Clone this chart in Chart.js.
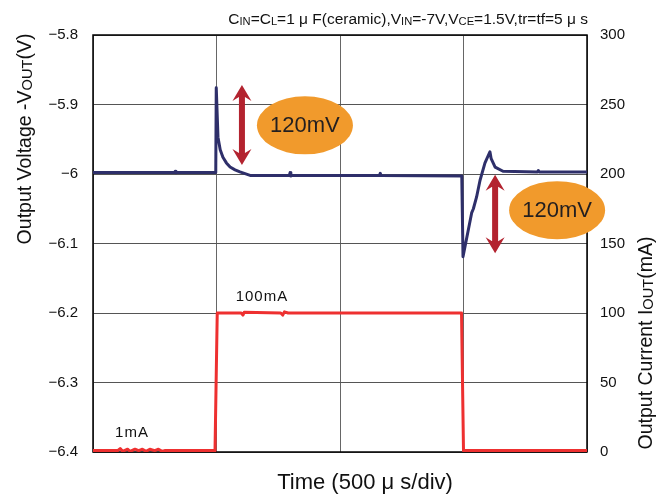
<!DOCTYPE html>
<html>
<head>
<meta charset="utf-8">
<script src="https://cdn.jsdelivr.net/npm/chart.js@4/dist/chart.umd.min.js"></script>
<style>
  html, body { margin: 0; padding: 0; background: #fff; }
  #wrap { width: 664px; height: 494px; }
</style>
</head>
<body>
<div id="wrap"><canvas id="loadChart" width="664" height="494"></canvas></div>
<script>
// time in microseconds, 500us per division
const timeTicks = [0, 500, 1000, 1500, 2000];
const voltTicks = [-6.4, -6.3, -6.2, -6.1, -6.0, -5.9, -5.8];
const currTicks = [0, 50, 100, 150, 200, 250, 300];

// output voltage trace (-Vout, V)
const voltTime = [0, 200, 330, 333, 336, 497, 499, 506, 515, 526, 540, 555, 575, 595, 636, 795, 798, 801, 805, 1160, 1163, 1166, 1493, 1498, 1533, 1540, 1553, 1567, 1587, 1607, 1612, 1628, 1660, 1800, 1803, 1806, 2000];
const voltValue = [-5.998, -5.998, -5.998, -5.996, -5.998, -5.998, -5.876, -5.947, -5.965, -5.976, -5.984, -5.990, -5.994, -5.997, -6.002, -6.002, -5.998, -6.003, -6.002, -6.002, -5.999, -6.002, -6.003, -6.119, -6.056, -6.050, -6.033, -6.009, -5.984, -5.968, -5.978, -5.990, -5.996, -5.997, -5.995, -5.997, -5.997];

// output current trace (Iout, mA)
const currTime = [0, 100, 110, 120, 140, 150, 170, 185, 200, 215, 230, 250, 265, 280, 290, 494, 503, 600, 607, 612, 760, 768, 775, 790, 1000, 1492, 1500, 2000];
const currValue = [1, 1, 2.5, 0.5, 2, 0.5, 2, 1, 2, 0.5, 2, 1, 2, 0.5, 1, 1, 100, 100, 98.5, 100.5, 100, 98.5, 100.8, 100, 100, 100, 1, 1];

// annotations (time, volts on the left axis)
const arrows = [
  { t: 603, top: -5.872, bottom: -5.987 },
  { t: 1628, top: -6.001, bottom: -6.114 }
];
const bubbles = [
  { t: 858, v: -5.930, text: '120mV' },
  { t: 1879, v: -6.052, text: '120mV' }
];
// text labels (time, mA on the right axis)
const currLabels = [
  { t: 684, i: 111.5, text: '100mA' },
  { t: 158, i: 13.7, text: '1mA' }
];

const FONT = '"Liberation Sans", Arial, sans-serif';

function pts(xs, ys) {
  return xs.map((x, i) => ({ x: x, y: ys[i] }));
}

// text made of [text, isSub] parts; subscripts are small caps on the baseline
function richWidth(ctx, parts, size, ratio) {
  let w = 0;
  parts.forEach(p => {
    ctx.font = (p[1] ? size * ratio : size) + 'px ' + FONT;
    w += ctx.measureText(p[0]).width;
  });
  return w;
}
function drawRich(ctx, parts, x, y, size, ratio) {
  parts.forEach(p => {
    ctx.font = (p[1] ? size * ratio : size) + 'px ' + FONT;
    ctx.fillText(p[0], x, p[1] ? y + size * 0.04 : y);
    x += ctx.measureText(p[0]).width;
  });
}

const extras = {
  id: 'extras',
  beforeDatasetsDraw(chart) {
    const ctx = chart.ctx, a = chart.chartArea;
    ctx.save();
    ctx.strokeStyle = '#000';
    ctx.lineWidth = 1.5;
    ctx.strokeRect(a.left, a.top, a.right - a.left, a.bottom - a.top);
    ctx.restore();
  },
  afterDatasetsDraw(chart) {
    const ctx = chart.ctx, a = chart.chartArea;
    const xs = chart.scales.x, ys = chart.scales.y, y2 = chart.scales.y2;
    ctx.save();

    // arrows
    ctx.fillStyle = '#B3232F';
    arrows.forEach(ar => {
      const x = xs.getPixelForValue(ar.t);
      const yt = ys.getPixelForValue(ar.top), yb = ys.getPixelForValue(ar.bottom);
      const hw = 9.5, hl = 16, sw = 3;
      ctx.beginPath();
      ctx.moveTo(x, yt);
      ctx.lineTo(x + hw, yt + hl);
      ctx.lineTo(x + sw, yt + hl - 4);
      ctx.lineTo(x + sw, yb - hl + 4);
      ctx.lineTo(x + hw, yb - hl);
      ctx.lineTo(x, yb);
      ctx.lineTo(x - hw, yb - hl);
      ctx.lineTo(x - sw, yb - hl + 4);
      ctx.lineTo(x - sw, yt + hl - 4);
      ctx.lineTo(x - hw, yt + hl);
      ctx.closePath();
      ctx.fill();
    });

    // orange bubbles
    bubbles.forEach(b => {
      const x = xs.getPixelForValue(b.t), y = ys.getPixelForValue(b.v);
      ctx.beginPath();
      ctx.ellipse(x, y, 48, 29, 0, 0, Math.PI * 2);
      ctx.fillStyle = '#F19A2C';
      ctx.fill();
      ctx.fillStyle = '#231F20';
      ctx.font = '22px ' + FONT;
      ctx.textAlign = 'center';
      ctx.textBaseline = 'middle';
      ctx.fillText(b.text, x, y + 1);
    });

    // current labels
    ctx.fillStyle = '#111';
    ctx.font = '15px ' + FONT;
    ctx.letterSpacing = '1px';
    ctx.textAlign = 'center';
    ctx.textBaseline = 'middle';
    currLabels.forEach(l => {
      ctx.fillText(l.text, xs.getPixelForValue(l.t), y2.getPixelForValue(l.i));
    });
    ctx.letterSpacing = '0px';

    // condition line at the top
    ctx.textAlign = 'left';
    ctx.textBaseline = 'alphabetic';
    const cond = [['C', 0], ['IN', 1], ['=C', 0], ['L', 1], ['=1 μ F(ceramic),V', 0], ['IN', 1], ['=-7V,V', 0], ['CE', 1], ['=1.5V,tr=tf=5 μ s', 0]];
    const cw = richWidth(ctx, cond, 15.5, 0.72);
    drawRich(ctx, cond, a.right + 1 - cw, 24, 15.5, 0.72);

    // x axis title
    ctx.font = '22px ' + FONT;
    ctx.textAlign = 'center';
    ctx.fillText('Time (500 μ s/div)', (a.left + a.right) / 2 + 25, 489);

    // left axis title
    ctx.textAlign = 'left';
    const lt = [['Output Voltage -V', 0], ['OUT', 1], ['(V)', 0]];
    ctx.save();
    ctx.translate(31, 139);
    ctx.rotate(-Math.PI / 2);
    drawRich(ctx, lt, -richWidth(ctx, lt, 19.5, 0.75) / 2, 0, 19.5, 0.75);
    ctx.restore();

    // right axis title
    const rt = [['Output Current I', 0], ['OUT', 1], ['(mA)', 0]];
    ctx.save();
    ctx.translate(652, 343);
    ctx.rotate(-Math.PI / 2);
    drawRich(ctx, rt, -richWidth(ctx, rt, 19.5, 0.75) / 2, 0, 19.5, 0.75);
    ctx.restore();

    ctx.restore();
  }
};

function fmt(v) {
  return String(Math.round(v * 10) / 10).replace('-', '\u2212');
}

new Chart(document.getElementById('loadChart').getContext('2d'), {
  type: 'line',
  data: {
    datasets: [{
      label: 'Vout',
      data: pts(voltTime, voltValue),
      yAxisID: 'y',
      borderColor: '#2E2F6A',
      borderWidth: 3,
      borderJoinStyle: 'round',
      pointRadius: 0,
      tension: 0
    }, {
      label: 'Iout',
      data: pts(currTime, currValue),
      yAxisID: 'y2',
      borderColor: '#EE3030',
      borderWidth: 3,
      borderJoinStyle: 'round',
      pointRadius: 0,
      tension: 0
    }]
  },
  options: {
    responsive: false,
    animation: false,
    layout: { padding: { top: 35, left: 0, right: 0, bottom: 0 } },
    plugins: {
      legend: { display: false },
      tooltip: { enabled: false }
    },
    scales: {
      x: {
        type: 'linear',
        min: 0, max: 2000,
        afterBuildTicks: s => { s.ticks = timeTicks.map(v => ({ value: v })); },
        afterFit: s => { s.height = 42; },
        ticks: { display: false },
        grid: { color: '#666', lineWidth: 1, drawTicks: false },
        border: { display: false }
      },
      y: {
        position: 'left',
        min: -6.4, max: -5.8,
        afterBuildTicks: s => { s.ticks = voltTicks.map(v => ({ value: v })); },
        afterFit: s => { s.width = 93; },
        ticks: { color: '#111', padding: 15, font: { family: FONT, size: 15 }, callback: fmt },
        grid: { color: '#555', lineWidth: 1, drawTicks: false },
        border: { display: false }
      },
      y2: {
        position: 'right',
        min: 0, max: 300,
        afterBuildTicks: s => { s.ticks = currTicks.map(v => ({ value: v })); },
        afterFit: s => { s.width = 77; },
        ticks: { color: '#111', padding: 13, font: { family: FONT, size: 15 } },
        grid: { display: false, drawTicks: false },
        border: { display: false }
      }
    }
  },
  plugins: [extras]
});
</script>
</body>
</html>
